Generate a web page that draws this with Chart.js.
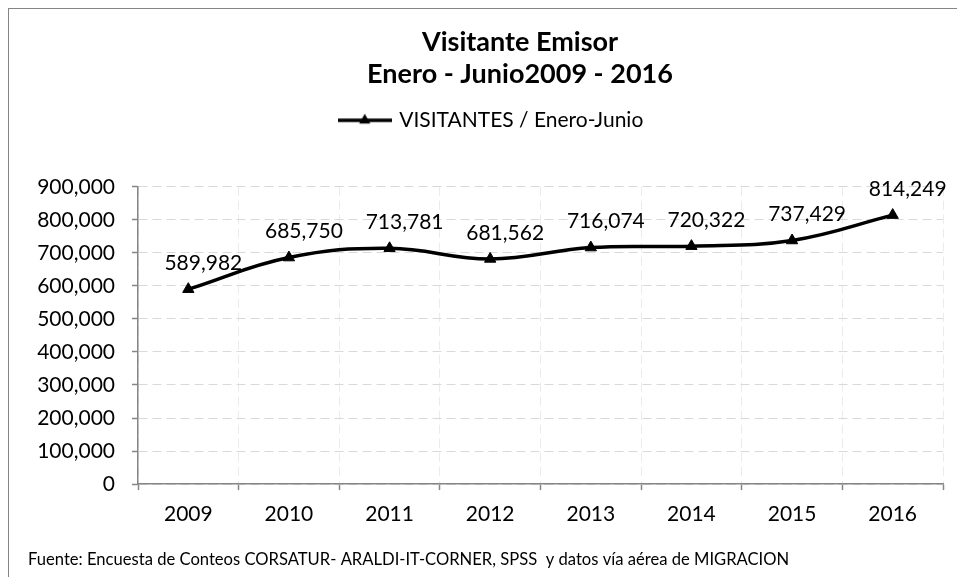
<!DOCTYPE html>
<html>
<head>
<meta charset="utf-8">
<script src="https://cdn.jsdelivr.net/npm/chart.js@4/dist/chart.umd.min.js"></script>
<style>
  html, body { margin: 0; padding: 0; background: #fff; overflow: hidden; }
  #frame {
    position: absolute; left: 8px; top: 8px; width: 1010px; height: 580px;
    border-top: 1px solid #858585; border-left: 1px solid #858585;
  }
  #chartBox { position: absolute; left: 0; top: 0; width: 1003px; height: 568px; }
</style>
</head>
<body>
<div id="frame"><div id="chartBox"><canvas id="visitChart"></canvas></div></div>
<script>
// datos
const years = ["2009", "2010", "2011", "2012", "2013", "2014", "2015", "2016"];
const visitantes = [589982, 685750, 713781, 681562, 716074, 720322, 737429, 814249];
const yTicks = [0, 100000, 200000, 300000, 400000, 500000, 600000, 700000, 800000, 900000];
const titleLines = ["Visitante Emisor", "Enero - Junio2009 - 2016"];
const seriesName = "VISITANTES / Enero-Junio";
const fuente = "Fuente: Encuesta de Conteos CORSATUR- ARALDI-IT-CORNER, SPSS  y datos vía aérea de MIGRACION";

const FONT = "Lato";
const fmt = v => v.toLocaleString("en-US");

// legend symbol: line with triangle
function legendSymbol() {
  const c = document.createElement("canvas");
  c.width = 54; c.height = 16;
  const g = c.getContext("2d");
  g.strokeStyle = "#000"; g.fillStyle = "#000"; g.lineWidth = 3.5;
  g.beginPath(); g.moveTo(0, 8); g.lineTo(54, 8); g.stroke();
  g.beginPath(); g.moveTo(27, 1.5); g.lineTo(32.6, 11.3); g.lineTo(21.4, 11.3); g.closePath(); g.fill();
  return c;
}
const symbol = legendSymbol();

// value labels above the points
const pointLabels = {
  id: "pointLabels",
  afterDatasetsDraw(chart) {
    const ctx = chart.ctx;
    const meta = chart.getDatasetMeta(0);
    ctx.save();
    ctx.font = "21px " + FONT;
    ctx.fillStyle = "#000";
    ctx.textAlign = "center";
    ctx.textBaseline = "middle";
    meta.data.forEach((pt, i) => {
      ctx.fillText(fmt(visitantes[i]), pt.x + 15, pt.y - 26);
    });
    ctx.restore();
  }
};

// legend sits a bit left of the title in the original
const legendShift = {
  id: "legendShift",
  afterLayout(chart) {
    chart.legend.left -= 28;
    chart.legend.right -= 28;
  }
};

const ctx = document.getElementById("visitChart").getContext("2d");
new Chart(ctx, {
  type: "line",
  data: {
    labels: years,
    datasets: [{
      label: seriesName,
      data: visitantes,
      borderColor: "#000",
      backgroundColor: "#000",
      borderWidth: 3.5,
      tension: 0.4,
      pointStyle: "triangle",
      pointRadius: 6.5,
      pointBackgroundColor: "#000",
      pointBorderColor: "#000",
      pointBorderWidth: 1,
      clip: false
    }]
  },
  options: {
    responsive: true,
    maintainAspectRatio: false,
    animation: false,
    devicePixelRatio: 1,
    layout: { padding: { left: 19, right: 0, top: 0, bottom: 0 } },
    plugins: {
      title: {
        display: true,
        text: titleLines,
        color: "#000",
        font: { family: FONT, size: 27, weight: "bold", lineHeight: 1.2 },
        padding: { top: 17, bottom: 9 }
      },
      legend: {
        display: true,
        position: "top",
        labels: {
          usePointStyle: true,
          pointStyleWidth: 48,
          color: "#000",
          font: { family: FONT, size: 21 },
          padding: 10,
          generateLabels: () => [{
            text: seriesName, pointStyle: symbol, fillStyle: "#000",
            strokeStyle: "#000", lineWidth: 0, hidden: false, datasetIndex: 0
          }]
        }
      },
      subtitle: {
        display: true,
        position: "bottom",
        align: "start",
        text: fuente,
        color: "#000",
        font: { family: FONT, size: 16.6, lineHeight: 1.2 },
        padding: { top: 0, bottom: 7 }
      },
      tooltip: { enabled: false }
    },
    scales: {
      x: {
        offset: true,
        grid: { offset: true, color: "#ebebeb", lineWidth: 1, tickColor: "#868686", tickLength: 6, tickWidth: 1.5 },
        border: { color: "#868686", width: 1.5, dash: [9, 5] },
        ticks: { color: "#000", font: { family: FONT, size: 21 }, padding: 12, maxRotation: 0 },
        afterFit: s => { s.height = 66; }
      },
      y: {
        min: 0,
        max: 900000,
        afterBuildTicks: s => { s.ticks = yTicks.map(v => ({ value: v })); },
        grid: { color: "#d9d9d9", lineWidth: 1, tickColor: "#868686", tickLength: 6, tickWidth: 1.5 },
        border: { color: "#868686", width: 1.5, dash: [9, 5] },
        ticks: { color: "#000", font: { family: FONT, size: 21 }, padding: 17, callback: v => fmt(v) },
        afterFit: s => { s.width = 110; }
      },
      padTop: {
        type: "linear", position: "top", display: true,
        ticks: { display: false }, grid: { display: false }, border: { display: false },
        afterFit: s => { s.height = 46; }
      },
      padRight: {
        type: "linear", position: "right", display: true,
        ticks: { display: false }, grid: { display: false }, border: { display: false },
        afterFit: s => { s.width = 69; }
      }
    }
  },
  plugins: [pointLabels, legendShift]
});
</script>
</body>
</html>
